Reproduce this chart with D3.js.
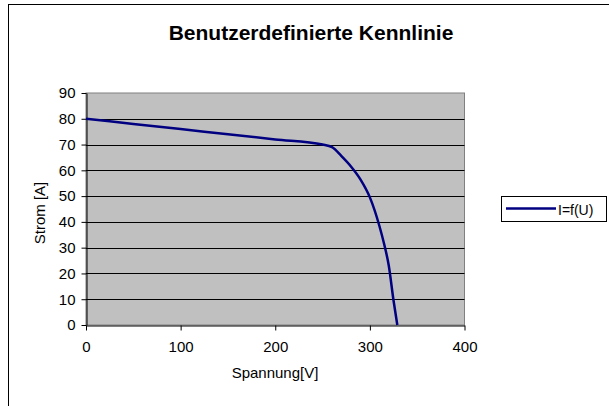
<!DOCTYPE html>
<html><head><meta charset="utf-8">
<script src="https://cdn.jsdelivr.net/npm/d3@7"></script>
<style>body{margin:0;background:#fff}svg{display:block}text{font-family:"Liberation Sans",Arial,sans-serif}</style>
</head><body><svg id="c" width="609" height="406"></svg>
<script>
const voltage = [0, 50, 100, 150, 200, 250, 260, 270, 280, 290, 300, 310, 315, 320, 325, 329];
const current = [80, 78, 76, 74, 72, 70, 69, 65.5, 61.5, 56.5, 49.5, 38.5, 31.5, 23, 9.5, 0];
const xTicks = [0, 100, 200, 300, 400];
const yTicks = [0, 10, 20, 30, 40, 50, 60, 70, 80, 90];
const title = "Benutzerdefinierte Kennlinie";
const xLabel = "Spannung[V]";
const yLabel = "Strom [A]";
const seriesName = "I=f(U)";

const svg = d3.select("#c");
svg.append("rect").attr("x",8.5).attr("y",4.5).attr("width",620).attr("height",420)
  .attr("fill","#fff").attr("stroke","#000").attr("stroke-width",1);

const L=86, R=464.5, T=93, B=325;
const x = d3.scaleLinear().domain([0,400]).range([L,R]);
const y = d3.scaleLinear().domain([0,90]).range([B,T]);

svg.append("rect").attr("x",L).attr("y",T).attr("width",R-L).attr("height",B-T)
  .attr("fill","#c0c0c0").attr("stroke","#808080").attr("stroke-width",1);

svg.append("g").selectAll("line").data(yTicks.filter(d=>d>0 && d<90)).join("line")
  .attr("x1",L).attr("x2",R).attr("y1",d=>Math.round(y(d))+0.5).attr("y2",d=>Math.round(y(d))+0.5)
  .attr("stroke","#000").attr("stroke-width",1);

const xa = svg.append("g").attr("transform",`translate(0,${B+0.5})`)
  .call(d3.axisBottom(x).tickValues(xTicks).tickSize(5).tickPadding(11).tickSizeOuter(0));
const ya = svg.append("g").attr("transform",`translate(${L+0.5},0)`)
  .call(d3.axisLeft(y).tickValues(yTicks).tickSize(5).tickPadding(6).tickSizeOuter(0));
[xa,ya].forEach(a=>{a.selectAll("text").attr("font-size",15).attr("fill","#000")
  .style("font-family","'Liberation Sans',Arial,sans-serif");
  a.select(".domain").attr("stroke","#000");a.selectAll(".tick line").attr("stroke","#000");});

const line = d3.line().x((d,i)=>x(voltage[i])).y(d=>y(d)).curve(d3.curveMonotoneX);
svg.append("path").attr("d",line(current)).attr("fill","none")
  .attr("stroke","#000080").attr("stroke-width",2.5);

svg.append("text").attr("x",311).attr("y",40).attr("text-anchor","middle")
  .attr("font-size",21).attr("font-weight","bold").text(title);
svg.append("text").attr("x",275).attr("y",378).attr("text-anchor","middle")
  .attr("font-size",15).text(xLabel);
svg.append("text").attr("transform","translate(45,213) rotate(-90)").attr("text-anchor","middle")
  .attr("font-size",15).text(yLabel);

const lg = svg.append("g");
lg.append("rect").attr("x",501.5).attr("y",196.5).attr("width",105).attr("height",25)
  .attr("fill","#fff").attr("stroke","#000");
lg.append("line").attr("x1",506).attr("x2",556).attr("y1",208.5).attr("y2",208.5)
  .attr("stroke","#000080").attr("stroke-width",2.5);
lg.append("text").attr("x",558).attr("y",214.5).attr("font-size",14).text(seriesName);
</script></body></html>
